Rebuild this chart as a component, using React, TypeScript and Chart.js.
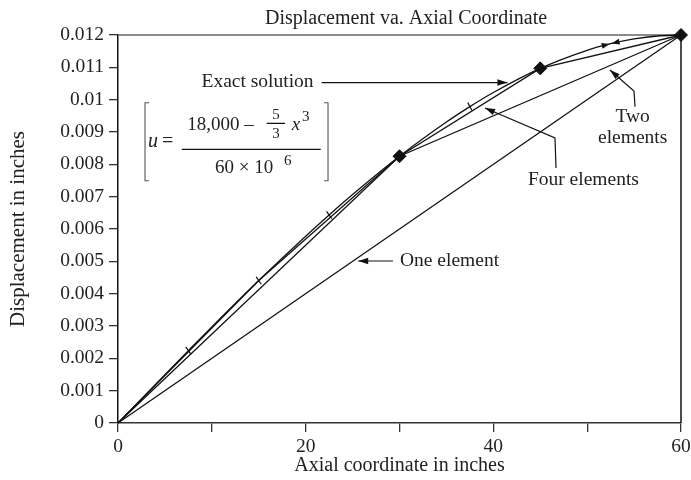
import React, { useEffect, useRef } from 'react';
import { Chart, registerables } from 'chart.js';

Chart.register(...registerables);

// ---- data ----
const exactX = [0, 5, 7.5, 10, 15, 20, 22.5, 25, 30, 35, 37.5, 40, 45, 50, 52.5, 55, 57.5, 60];
const exactU = [0, 0.001497, 0.002238, 0.002972, 0.004406, 0.005778, 0.006434, 0.007066, 0.00825, 0.009309, 0.009785, 0.010222, 0.010969, 0.011528, 0.01173, 0.011878, 0.011969, 0.012];
const fourX = [0, 15, 30, 45, 60];
const fourU = [0, 0.004406, 0.00825, 0.010969, 0.012];
const twoX = [0, 30, 60];
const twoU = [0, 0.00825, 0.012];
const oneX = [0, 60];
const oneU = [0, 0.012];
const nodeX = [30, 45, 60];
const nodeU = [0.00825, 0.010969, 0.012];
const tickMarkX = [7.5, 15, 22.5, 37.5];

const xTicks = [0, 10, 20, 30, 40, 50, 60];
const xTickLabels = ['0', '', '20', '', '40', '', '60'];
const yTicks = [0, 0.001, 0.002, 0.003, 0.004, 0.005, 0.006, 0.007, 0.008, 0.009, 0.01, 0.011, 0.012];
const yTickLabels = ['0', '0.001', '0.002', '0.003', '0.004', '0.005', '0.006', '0.007', '0.008', '0.009', '0.01', '0.011', '0.012'];

const chartTitle = 'Displacement va. Axial Coordinate';
const xTitle = 'Axial coordinate in inches';
const yTitle = 'Displacement in inches';

const SERIF = "'Liberation Serif', 'Times New Roman', serif";
const TEXT = '#222';
const INK = '#111';

const pts = (xs: number[], ys: number[]) => xs.map((x, i) => ({ x, y: ys[i] }));

function arrowHead(ctx: CanvasRenderingContext2D, tx: number, ty: number, fx: number, fy: number, len = 10, half = 3.2) {
  const a = Math.atan2(ty - fy, tx - fx);
  const c = Math.cos(a), s = Math.sin(a);
  ctx.beginPath();
  ctx.moveTo(tx, ty);
  ctx.lineTo(tx - len * c + half * s, ty - len * s - half * c);
  ctx.lineTo(tx - len * c - half * s, ty - len * s + half * c);
  ctx.closePath();
  ctx.fill();
}

function arrowLine(ctx: CanvasRenderingContext2D, p: [number, number][]) {
  ctx.beginPath();
  ctx.moveTo(p[0][0], p[0][1]);
  for (let i = 1; i < p.length; i++) ctx.lineTo(p[i][0], p[i][1]);
  ctx.stroke();
  const a = p[p.length - 2], b = p[p.length - 1];
  arrowHead(ctx, b[0], b[1], a[0], a[1]);
}

const framePlugin = {
  id: 'frame',
  beforeDatasetsDraw(chart: any) {
    const { ctx, chartArea: a } = chart;
    ctx.save();
    ctx.lineWidth = 1.5;
    ctx.strokeStyle = '#666';
    ctx.beginPath();
    ctx.moveTo(a.left, a.top);
    ctx.lineTo(a.right, a.top);
    ctx.stroke();
    ctx.strokeStyle = INK;
    ctx.beginPath();
    ctx.moveTo(a.right, a.top);
    ctx.lineTo(a.right, a.bottom);
    ctx.stroke();
    ctx.restore();
  },
};

const annotPlugin = {
  id: 'annot',
  afterDatasetsDraw(chart: any) {
    const { ctx, chartArea: a, scales } = chart;
    const X = (v: number) => scales.x.getPixelForValue(v);
    const Y = (v: number) => scales.y.getPixelForValue(v);
    ctx.save();
    ctx.fillStyle = TEXT;
    ctx.strokeStyle = INK;
    ctx.lineWidth = 1.2;
    ctx.textBaseline = 'middle';

    // chart title
    ctx.font = `20px ${SERIF}`;
    ctx.textAlign = 'center';
    ctx.fillText(chartTitle, X(30.7), a.top - 16);

    // Exact solution label + arrow
    ctx.textAlign = 'left';
    ctx.font = `19.5px ${SERIF}`;
    ctx.fillText('Exact solution', X(8.9), Y(0.010546));
    ctx.fillStyle = INK;
    arrowLine(ctx, [[X(21.7), Y(0.01053)], [X(41.5), Y(0.01053)]]);

    // One element
    ctx.fillStyle = TEXT;
    ctx.fillText('One element', X(30.05), Y(0.00501));
    ctx.fillStyle = INK;
    arrowLine(ctx, [[X(29.3), Y(0.00501)], [X(25.6), Y(0.00501)]]);

    // Two elements
    ctx.fillStyle = TEXT;
    ctx.textAlign = 'center';
    ctx.fillText('Two', X(54.85), Y(0.009473));
    ctx.fillText('elements', X(54.85), Y(0.008805));
    ctx.fillStyle = INK;
    arrowLine(ctx, [[X(55.1), Y(0.009783)], [X(54.99), Y(0.010268)], [X(52.43), Y(0.010918)]]);

    // Four elements
    ctx.fillStyle = TEXT;
    ctx.fillText('Four elements', X(49.6), Y(0.007515));
    ctx.fillStyle = INK;
    arrowLine(ctx, [[X(46.68), Y(0.007887)], [X(46.57), Y(0.008814)], [X(39.11), Y(0.009742)]]);

    // double arrowheads on the exact curve near x = 52.5
    {
      const i0 = exactX.indexOf(50), i1 = exactX.indexOf(55), im = exactX.indexOf(52.5);
      const dx = X(exactX[i1]) - X(exactX[i0]);
      const dy = Y(exactU[i1]) - Y(exactU[i0]);
      const L = Math.hypot(dx, dy);
      const ux = dx / L, uy = dy / L;
      const cx = X(exactX[im]), cy = Y(exactU[im]);
      arrowHead(ctx, cx - ux * 1, cy - uy * 1, cx - ux * 10, cy - uy * 10, 8, 3);
      arrowHead(ctx, cx + ux * 1, cy + uy * 1, cx + ux * 10, cy + uy * 10, 8, 3);
    }

    // formula box
    {
      const ox = X(2.88), oy = Y(0.009906);
      ctx.strokeStyle = '#555';
      ctx.lineWidth = 1.1;
      ctx.beginPath();
      ctx.moveTo(ox + 4, oy); ctx.lineTo(ox, oy); ctx.lineTo(ox, oy + 78); ctx.lineTo(ox + 4, oy + 78);
      ctx.moveTo(ox + 179, oy); ctx.lineTo(ox + 183, oy); ctx.lineTo(ox + 183, oy + 78); ctx.lineTo(ox + 179, oy + 78);
      ctx.stroke();
      ctx.fillStyle = TEXT;
      ctx.textAlign = 'left';
      ctx.font = `italic 20px ${SERIF}`;
      ctx.fillText('u', ox + 3, oy + 39);
      ctx.font = `20px ${SERIF}`;
      ctx.fillText('=', ox + 17, oy + 39);
      ctx.strokeStyle = INK;
      ctx.lineWidth = 1.2;
      ctx.beginPath();
      ctx.moveTo(ox + 36.7, oy + 46.6); ctx.lineTo(ox + 175.7, oy + 46.6);
      ctx.moveTo(ox + 121.7, oy + 20.6); ctx.lineTo(ox + 140, oy + 20.6);
      ctx.stroke();
      ctx.font = `19px ${SERIF}`;
      ctx.fillText('18,000 \u2013', ox + 42.3, oy + 22.3);
      ctx.fillText('60 \u00d7 10', ox + 70, oy + 65.6);
      ctx.font = `italic 19px ${SERIF}`;
      ctx.fillText('x', ox + 146.7, oy + 22.3);
      ctx.font = `15px ${SERIF}`;
      ctx.textAlign = 'center';
      ctx.fillText('5', ox + 131, oy + 12);
      ctx.fillText('3', ox + 131, oy + 31.5);
      ctx.textAlign = 'left';
      ctx.fillText('3', ox + 157, oy + 14.5);
      ctx.fillText('6', ox + 139, oy + 58.5);
    }
    ctx.restore();
  },
};

export default function App() {
  const ref = useRef<HTMLCanvasElement | null>(null);
  useEffect(() => {
    document.body.style.margin = '0';
    const canvas = ref.current;
    if (!canvas) return;
    const lineDs = (label: string, xs: number[], ys: number[]) => ({
      label,
      data: pts(xs, ys),
      showLine: true,
      borderColor: INK,
      borderWidth: 1.3,
      pointRadius: 0,
      tension: 0,
      clip: false as any,
    });
    const tickFont = { family: SERIF, size: 19.5 };
    const chart = new Chart(canvas, {
      type: 'scatter',
      data: {
        datasets: [
          {
            label: 'Exact solution',
            data: pts(exactX, exactU),
            showLine: true,
            borderColor: INK,
            borderWidth: 1.3,
            cubicInterpolationMode: 'monotone',
            pointStyle: 'line',
            pointRadius: (c: any) => (c.raw && tickMarkX.includes(c.raw.x) ? 4.5 : 0),
            pointRotation: (c: any) => (c.raw && c.raw.x > 30 ? 62 : 55),
            pointBorderColor: INK,
            pointBackgroundColor: INK,
            pointBorderWidth: 1.2,
            clip: false as any,
          } as any,
          lineDs('Four elements', fourX, fourU),
          lineDs('Two elements', twoX, twoU),
          lineDs('One element', oneX, oneU),
          {
            label: 'Nodes',
            data: pts(nodeX, nodeU),
            showLine: false,
            pointStyle: 'rectRot',
            pointRadius: 6.5,
            pointBackgroundColor: INK,
            pointBorderColor: INK,
            pointBorderWidth: 1,
            clip: false as any,
          } as any,
        ],
      },
      options: {
        animation: false,
        responsive: false,
        events: [],
        layout: { padding: { top: 35, right: 10, left: 0, bottom: 0 } },
        plugins: {
          legend: { display: false },
          tooltip: { enabled: false },
          title: { display: false },
        },
        scales: {
          x: {
            type: 'linear',
            min: 0,
            max: 60,
            afterFit: (s: any) => { s.height = 57; s.paddingRight = 0; s.paddingLeft = 0; },
            afterBuildTicks: (s: any) => { s.ticks = xTicks.map((v) => ({ value: v })); },
            ticks: {
              font: tickFont,
              color: TEXT,
              padding: 3,
              maxRotation: 0,
              autoSkip: false,
              callback: (_v: any, i: number) => xTickLabels[i],
            },
            grid: { drawOnChartArea: false, drawTicks: true, tickLength: 9, color: '#333', lineWidth: 1.3 },
            border: { display: true, color: '#333', width: 1.5 },
            title: { display: true, text: xTitle, font: { family: SERIF, size: 20 }, color: TEXT, padding: { top: 0, bottom: 2 } },
          },
          y: {
            type: 'linear',
            min: 0,
            max: 0.012,
            afterFit: (s: any) => { s.width = 118; s.paddingTop = 0; s.paddingBottom = 0; },
            afterBuildTicks: (s: any) => { s.ticks = yTicks.map((v) => ({ value: v })); },
            ticks: {
              font: tickFont,
              color: TEXT,
              padding: 5,
              autoSkip: false,
              callback: (_v: any, i: number) => yTickLabels[i],
            },
            grid: { drawOnChartArea: false, drawTicks: true, tickLength: 9, color: '#333', lineWidth: 1.3 },
            border: { display: true, color: INK, width: 1.5 },
            title: { display: true, text: yTitle, font: { family: SERIF, size: 21 }, color: TEXT, padding: { top: 6, bottom: 0 } },
          },
        },
      } as any,
      plugins: [framePlugin, annotPlugin],
    });
    return () => chart.destroy();
  }, []);
  return (
    <div style={{ width: 691, height: 480, background: '#fff' }}>
      <canvas ref={ref} width={691} height={480} style={{ display: 'block' }} />
    </div>
  );
}
